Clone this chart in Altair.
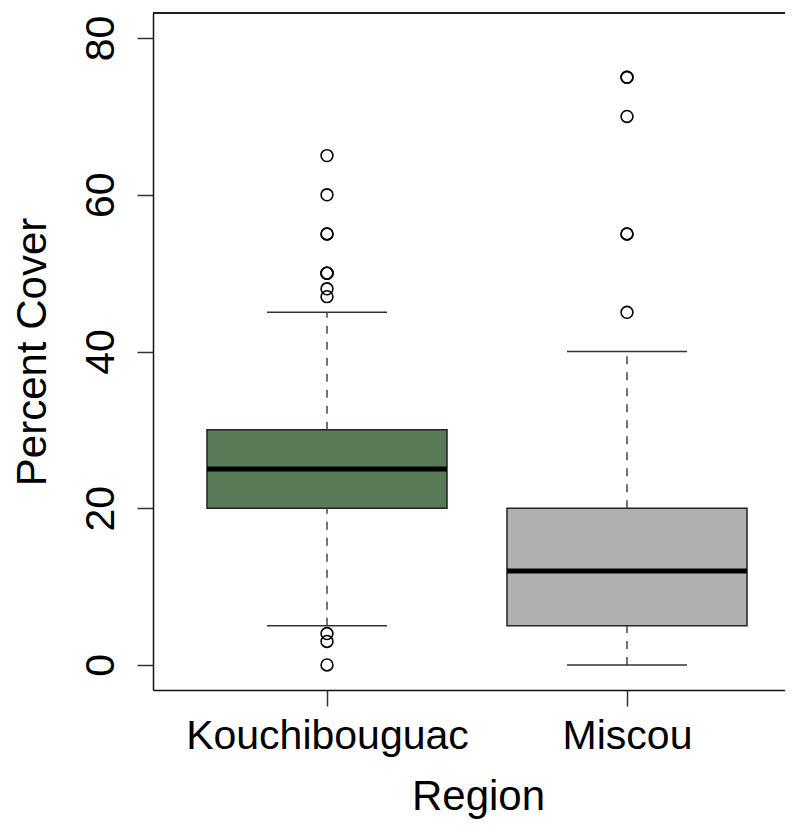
import altair as alt
import pandas as pd

# ---- data ----
regions = ["Kouchibouguac", "Miscou"]
q1 = [20, 5]
median = [25, 12]
q3 = [30, 20]
whisker_low = [5, 0]
whisker_high = [45, 40]
box_colors = ["#587A56", "#B0B0B0"]

outlier_regions = ["Kouchibouguac"] * 12 + ["Miscou"] * 6
outlier_values = [65, 60, 55, 55, 50, 50, 50, 48, 47, 4, 3, 0,
                  75, 75, 70, 55, 55, 45]

y_ticks = [0, 20, 40, 60, 80]

# ---- layout / style ----
PLOT_W = 632
PLOT_H = 677
PX_PER_UNIT = 300.0
X_MIN = 0.42
BOX_HALF = 0.4
CAP_HALF = 0.2
FONT = "Liberation Sans"

box_df = pd.DataFrame({
    "region": regions, "q1": q1, "median": median, "q3": q3,
    "wlo": whisker_low, "whi": whisker_high,
})
box_df["pos"] = range(1, len(regions) + 1)
box_df["lo"] = box_df["pos"] - BOX_HALF
box_df["hi"] = box_df["pos"] + BOX_HALF
box_df["clo"] = box_df["pos"] - CAP_HALF
box_df["chi"] = box_df["pos"] + CAP_HALF

pos_of = {r: i + 1 for i, r in enumerate(regions)}
out_df = pd.DataFrame({"region": outlier_regions, "value": outlier_values})
out_df["pos"] = out_df["region"].map(pos_of)

x_scale = alt.Scale(domain=[X_MIN, X_MIN + PLOT_W / PX_PER_UNIT], nice=False, zero=False)
y_scale = alt.Scale(domain=[-3.2, 83.2], nice=False, zero=False)

label_expr = " : ".join(
    f"datum.value == {i + 1} ? '{r}'" for i, r in enumerate(regions)
) + " : ''"

x_axis = alt.Axis(
    values=list(range(1, len(regions) + 1)), labelExpr=label_expr, title="Region",
    grid=False, labelFont=FONT, labelFontSize=41, labelColor="black", labelLimit=0,
    labelBaseline="alphabetic", labelPadding=42, labelFlush=False, labelOverlap=False,
    tickSize=16, tickColor="#333", tickWidth=1.5,
    domainColor="#111", domainWidth=1.5,
    titleFont=FONT, titleFontSize=42, titleFontWeight="normal", titleColor="black",
    titleBaseline="alphabetic", titleAlign="center", titleX=325, titleY=119,
)
y_axis = alt.Axis(
    values=y_ticks, title="Percent Cover", grid=False,
    labelFont=FONT, labelFontSize=41, labelColor="black", labelAngle=-90,
    labelAlign="center", labelBaseline="alphabetic", labelPadding=24,
    labelFlush=False, labelOverlap=False, labelLimit=0,
    tickSize=16, tickColor="#333", tickWidth=1.5,
    domainColor="#111", domainWidth=1.5,
    titleFont=FONT, titleFontSize=42, titleFontWeight="normal", titleColor="black",
    titleAngle=270, titleBaseline="alphabetic", titleAlign="center",
    titleX=-108, titleY=PLOT_H / 2,
)


def X(field):
    return alt.X(field, scale=x_scale, axis=x_axis)


def Y(field):
    return alt.Y(field, scale=y_scale, axis=y_axis)


base = alt.Chart(box_df)

boxes = base.mark_rect(stroke="#222", strokeWidth=1.5).encode(
    x=X("lo:Q"), x2="hi:Q",
    y=Y("q1:Q"), y2="q3:Q",
    fill=alt.Fill("region:N", scale=alt.Scale(domain=regions, range=box_colors), legend=None),
)

medians = base.mark_rule(color="black", strokeWidth=5).encode(
    x=X("lo:Q"), x2="hi:Q", y=Y("median:Q"),
)

whisk_up = base.mark_rule(color="#444", strokeWidth=1.5, strokeDash=[8, 8]).encode(
    x=X("pos:Q"), y=Y("q3:Q"), y2="whi:Q",
)
whisk_dn = base.mark_rule(color="#444", strokeWidth=1.5, strokeDash=[8, 8]).encode(
    x=X("pos:Q"), y=Y("wlo:Q"), y2="q1:Q",
)
cap_up = base.mark_rule(color="#333", strokeWidth=1.5).encode(
    x=X("clo:Q"), x2="chi:Q", y=Y("whi:Q"),
)
cap_dn = base.mark_rule(color="#333", strokeWidth=1.5).encode(
    x=X("clo:Q"), x2="chi:Q", y=Y("wlo:Q"),
)

outliers = alt.Chart(out_df).mark_point(
    shape="circle", filled=False, color="black", size=140, strokeWidth=1.6, opacity=1
).encode(
    x=X("pos:Q"), y=Y("value:Q"),
)

top_frame = alt.Chart(box_df).mark_rule(color="#111", strokeWidth=1.5).encode(
    x=alt.value(0), x2=alt.value(PLOT_W), y=alt.value(0)
)

chart = alt.layer(
    boxes, whisk_up, whisk_dn, cap_up, cap_dn, medians, outliers, top_frame
).properties(
    width=PLOT_W, height=PLOT_H,
    autosize=alt.AutoSizeParams(type="none"),
    padding={"left": 145, "top": 5, "right": 0, "bottom": 129},
    background="white",
).configure_view(stroke=None)

chart.save("out.html", embed_options={"renderer": "svg", "actions": False})
